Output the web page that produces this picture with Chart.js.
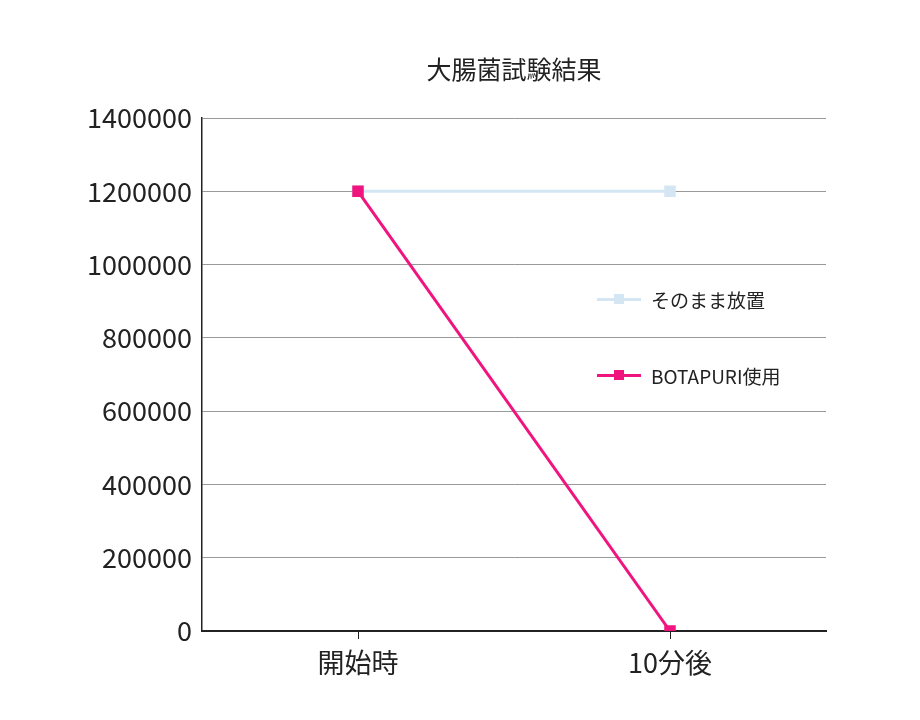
<!DOCTYPE html>
<html><head><meta charset="utf-8">
<script src="https://cdn.jsdelivr.net/npm/chart.js@4"></script>
<style>
body{margin:0;background:#fff;font-family:"Noto Sans CJK JP",sans-serif}
#wrap{position:relative;width:920px;height:720px}
.ttl{position:absolute;left:202px;width:624px;top:50px;text-align:center;font-size:25px;color:#222}
.lg{position:absolute;left:597px;font-size:19px;color:#222;display:flex;align-items:center}
.lg i{display:inline-block;width:44px;height:3px;position:relative;margin-right:10px}
.lg i b{position:absolute;left:17px;top:-4px;width:10px;height:10px}
</style></head>
<body><div id="wrap"><canvas id="c" width="920" height="720"></canvas>
<div class="ttl">大腸菌試験結果</div>
<div class="lg" style="top:286px"><i style="background:#d4e6f4"><b style="background:#d4e6f4"></b></i>そのまま放置</div>
<div class="lg" style="top:362px"><i style="background:#f0147f"><b style="background:#f0147f"></b></i>BOTAPURI使用</div>
</div>
<script>
const categories = ['開始時', '10分後'];
const leftAlone  = [1200000, 1200000];
const botapuri   = [1200000, 0];
const font = {family:'"Noto Sans CJK JP", sans-serif', size:27};

new Chart(document.getElementById('c'), {
  type: 'line',
  data: {
    labels: categories,
    datasets: [
      {label:'そのまま放置', data:leftAlone, borderColor:'#d4e6f4', backgroundColor:'#d4e6f4',
       borderWidth:3, pointStyle:'rect', pointRadius:6, order:2},
      {label:'BOTAPURI使用', data:botapuri, borderColor:'#f0147f', backgroundColor:'#f0147f',
       borderWidth:3, pointStyle:'rect', pointRadius:6, order:1}
    ]
  },
  options: {
    responsive:false, animation:false,
    layout:{padding:{left:0, right:94, top:118, bottom:0}},
    plugins:{legend:{display:false}, tooltip:{enabled:false}},
    scales:{
      x:{offset:true,
        grid:{display:true, drawOnChartArea:false, drawTicks:true, tickLength:8, color:'#222', offset:false},
        border:{color:'#222', width:2},
        ticks:{color:'#222', font, padding:8},
        afterFit:s=>{s.height=89;}},
      y:{min:0, max:1400000,
        ticks:{stepSize:200000, color:'#222', font, padding:10, callback:v=>String(v)},
        grid:{color:'#999', drawTicks:false},
        border:{color:'#222', width:1.5},
        afterFit:s=>{s.width=202;}}
    }
  }
});
</script></body></html>
